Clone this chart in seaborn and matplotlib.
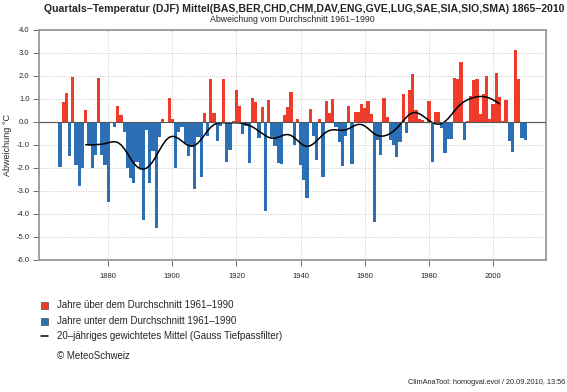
import numpy as np
import pandas as pd
import matplotlib
matplotlib.use("Agg")
import matplotlib.pyplot as plt
from matplotlib.patches import Rectangle
from matplotlib.lines import Line2D
import seaborn as sns

# ---------------- data ----------------
years = list(range(1865, 2011))
anomaly = [
    -1.94, 0.86, 1.28, -1.50, 1.96, -1.87, -2.80, -1.98, 0.50, -1.00,   # 1865-1874
    -2.00, -1.42, 1.90, -1.45, -1.87, -3.48, -0.03, -0.23, 0.68, 0.31,  # 1875-1884
    -0.45, -2.00, -2.45, -2.65, -1.72, -2.04, -4.26, -0.35, -2.67, -1.26,  # 1885-1894
    -4.62, -0.64, 0.13, 0.02, 1.06, 0.12, -2.00, -0.45, -0.20, -0.90,   # 1895-1904
    -1.50, -1.10, -2.90, -0.65, -2.38, 0.40, -0.62, 1.86, 0.40, -0.83,  # 1905-1914
    -0.18, 1.86, -1.72, -1.20, 0.03, 1.40, 0.68, -0.52, -0.16, -1.77,   # 1915-1924
    1.03, 0.85, -0.68, 0.65, -3.85, 0.96, -0.66, -1.05, -1.78, -1.82,   # 1925-1934
    0.30, 0.65, 1.32, -1.00, 0.13, -1.86, -2.51, -3.31, 0.55, -0.62,    # 1935-1944
    -1.64, 0.12, -2.40, 0.93, 0.37, 0.98, -0.22, -0.88, -1.92, -0.62,   # 1945-1954
    0.71, -1.82, 0.45, 0.42, 0.78, 0.60, 0.91, 0.33, -4.33, -0.78,      # 1955-1964
    -1.44, 1.04, 0.22, -0.80, -1.02, -1.53, -0.88, 1.22, -0.46, 1.40,   # 1965-1974
    2.07, 0.52, 0.15, 0.08, -0.04, 0.92, -1.72, 0.43, 0.43, -0.27,      # 1975-1984
    -1.36, -0.75, -0.75, 1.90, 1.88, 2.60, -0.79, 0.04, 1.12, 1.82,     # 1985-1994
    1.89, 0.36, 1.22, 2.00, 0.13, 0.78, 2.14, 1.10, 0.05, 0.96,         # 1995-2004
    -0.82, -1.32, 3.11, 1.87, -0.70, -0.78,                             # 2005-2010
]
y_ticks = [4.0, 3.0, 2.0, 1.0, 0.0, -1.0, -2.0, -3.0, -4.0, -5.0, -6.0]
x_ticks = [1880, 1900, 1920, 1940, 1960, 1980, 2000]
legend_labels = [
    "Jahre über dem Durchschnitt 1961\u20131990",
    "Jahre unter dem Durchschnitt 1961\u20131990",
    "20\u2013jähriges gewichtetes Mittel (Gauss Tiefpassfilter)",
]

RED = "#EE3B2A"
BLUE = "#2C6FB4"

df = pd.DataFrame({"Jahr": years, "Abw": anomaly})
df["Klasse"] = np.where(df["Abw"] >= 0, "ueber", "unter")

# 20-year Gaussian low-pass filter (computed from the series)
yr = np.array(years, dtype=float)
va = np.array(anomaly)
sigma = 3.3
smooth = []
for y0 in yr:
    m = np.abs(yr - y0) <= 10
    w = np.exp(-0.5 * ((yr[m] - y0) / sigma) ** 2)
    smooth.append(np.sum(w * va[m]) / np.sum(w))
sm = pd.DataFrame({"Jahr": yr, "Mittel": smooth})
sm = sm[(sm["Jahr"] >= 1873) & (sm["Jahr"] <= 2002)]

# ---------------- figure ----------------
sns.set_theme(style="white")
plt.rcParams["font.family"] = ["Liberation Sans", "DejaVu Sans"]
plt.rcParams["axes.unicode_minus"] = False

W, H = 567, 392
fig = plt.figure(figsize=(W / 100, H / 100), dpi=100)
ax = fig.add_axes([39.2 / W, 1 - 260 / H, (546 - 39.2) / W, 230 / H])

sns.barplot(data=df, x="Jahr", y="Abw", hue="Klasse",
            palette={"ueber": RED, "unter": BLUE},
            hue_order=["ueber", "unter"], native_scale=True,
            width=1.0, dodge=False, legend=False, ax=ax,
            linewidth=0, saturation=1)
sns.lineplot(data=sm, x="Jahr", y="Mittel", color="black", linewidth=1.1, ax=ax)

ax.set_xlim(1858.5, 2016.5)
ax.set_ylim(-6, 4)
ax.set_yticks(y_ticks)
ax.set_yticklabels([f"{t:.1f}" for t in y_ticks])
ax.set_xticks(x_ticks)
ax.set_xticklabels([str(t) for t in x_ticks])
ax.tick_params(axis="both", labelsize=5.5, length=4, width=0.6,
               color="#555555", direction="out", bottom=True, left=True)
ax.tick_params(axis="x", pad=5)
ax.tick_params(axis="y", pad=3)
for g in y_ticks:
    ax.axhline(g, color="#c8c8c8", linewidth=0.7, linestyle=(0, (1, 1.5)), zorder=0)
for g in x_ticks:
    ax.axvline(g, color="#c8c8c8", linewidth=0.7, linestyle=(0, (1, 1.5)), zorder=0)
ax.axhline(0, color="#555555", linewidth=0.8, zorder=3)
for s in ax.spines.values():
    s.set_color("#999999")
    s.set_linewidth(1.3)
ax.set_xlabel("")
ax.set_ylabel("Abweichung °C", fontsize=6.5, labelpad=3)

fig.text(304 / W, 1 - 9 / H, "Quartals\u2013Temperatur (DJF) Mittel(BAS,BER,CHD,CHM,DAV,ENG,GVE,LUG,SAE,SIA,SIO,SMA) 1865\u20132010",
         ha="center", va="center", fontsize=7.6, fontweight="bold")
fig.text(292 / W, 1 - 20 / H, "Abweichung vom Durchschnitt 1961\u20131990",
         ha="center", va="center", fontsize=6.3)

# legend (manual, figure pixel positions)
rows = [305, 321, 336]
for i, (lab, yy) in enumerate(zip(legend_labels, rows)):
    if i < 2:
        fig.add_artist(Rectangle(((41) / W, 1 - (yy + 3.5) / H), 7 / W, 7 / H,
                                 transform=fig.transFigure,
                                 facecolor=RED if i == 0 else BLUE,
                                 edgecolor="#333333", linewidth=0.4))
    else:
        fig.add_artist(Line2D([41 / W, 48 / W], [1 - yy / H, 1 - yy / H],
                              transform=fig.transFigure, color="black", linewidth=1.1))
    fig.text(57 / W, 1 - yy / H, lab, ha="left", va="center", fontsize=7)

fig.text(57 / W, 1 - 356 / H, "© MeteoSchweiz", ha="left", va="center", fontsize=7)
fig.text(565 / W, 1 - 383 / H, "ClimAnaTool: homogval.evol / 20.09.2010, 13:56",
         ha="right", va="center", fontsize=5.3)

fig.savefig("out.png", dpi=100)
